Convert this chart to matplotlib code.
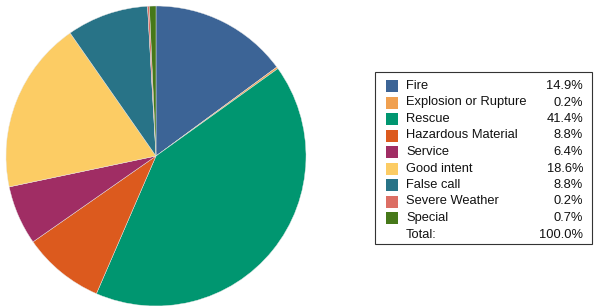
import matplotlib
matplotlib.use("Agg")
import matplotlib.pyplot as plt
from matplotlib.patches import Rectangle

# data
categories = ["Fire", "Explosion or Rupture", "Rescue", "Hazardous Material",
              "Service", "Good intent", "False call", "Severe Weather", "Special"]
shares = [14.9, 0.2, 41.4, 8.8, 6.4, 18.6, 8.8, 0.2, 0.7]
colors = ["#3c6496", "#f0a050", "#009670", "#dc5a1e", "#a02d64",
          "#fccc64", "#287387", "#dc6e64", "#467819"]
total_label = "100.0%"

plt.rcParams['font.family'] = ['Liberation Sans', 'DejaVu Sans']

W, H = 595, 306
fig = plt.figure(figsize=(W / 100, H / 100), dpi=100)

# legend drawn in pixel coordinates
leg = fig.add_axes([0, 0, 1, 1])
leg.set_xlim(0, W)
leg.set_ylim(H, 0)
leg.axis("off")
leg.add_patch(Rectangle((374.5, 71.5), 217, 172, fill=False,
                        edgecolor="#333333", linewidth=0.8))
fs = 9.3
y0, dy = 86, 16.5
for i, (name, val, col) in enumerate(zip(categories, shares, colors)):
    y = y0 + i * dy
    leg.add_patch(Rectangle((386, y - 6), 12, 12, facecolor=col, edgecolor="none"))
    leg.text(406, y, name, fontsize=fs, va="center", ha="left", color="#111111")
    leg.text(583, y, f"{val:.1f}%", fontsize=fs, va="center", ha="right", color="#111111")
y = y0 + len(categories) * dy
leg.text(406, y, "Total:", fontsize=fs, va="center", ha="left", color="#111111")
leg.text(583, y, total_label, fontsize=fs, va="center", ha="right", color="#111111")

# pie
ax = fig.add_axes([6 / W, 0, 300 / W, 300 / H])
ax.pie(shares, colors=colors, startangle=90, counterclock=False,
       wedgeprops=dict(linewidth=0.3, edgecolor="#e8e8e8"))
ax.set_xlim(-1, 1)
ax.set_ylim(-1, 1)
ax.set_aspect("equal")

fig.savefig("out.png", dpi=100)
